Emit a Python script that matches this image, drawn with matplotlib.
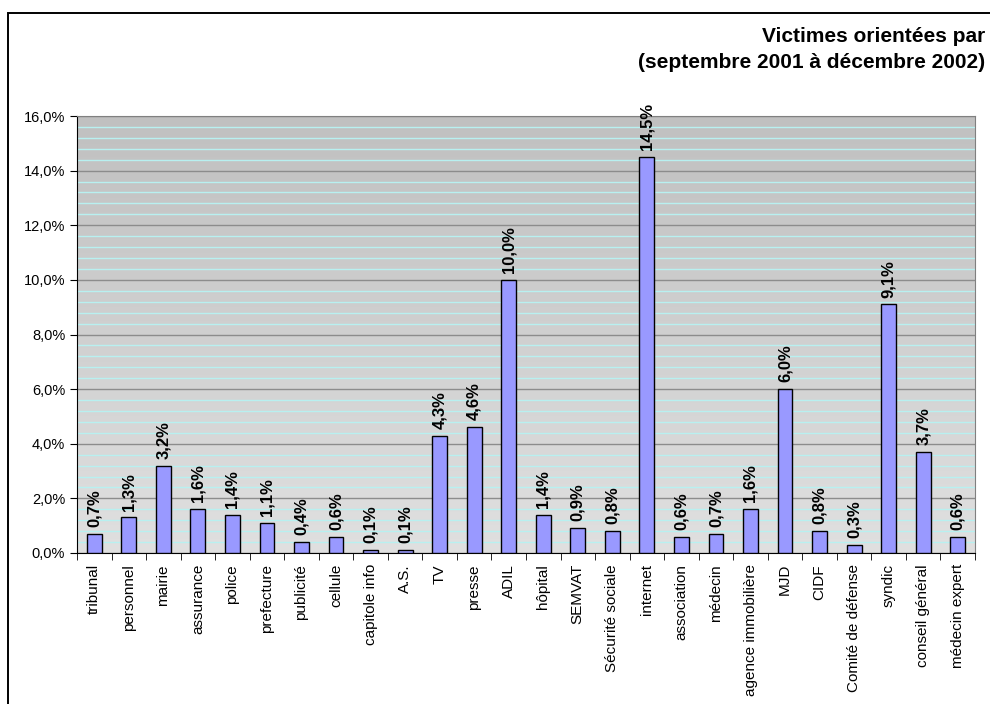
import numpy as np
import matplotlib

matplotlib.use("Agg")

import matplotlib.pyplot as plt  # noqa: E402
from matplotlib.patches import Rectangle  # noqa: E402
from matplotlib.ticker import FuncFormatter, MultipleLocator  # noqa: E402

categories = [
    "tribunal", "personnel", "mairie", "assurance", "police", "prefecture",
    "publicité", "cellule", "capitole info", "A.S.", "TV", "presse", "ADIL",
    "hôpital", "SEMVAT", "Sécurité sociale", "internet", "association",
    "médecin", "agence immobilière", "MJD", "CIDF", "Comité de défense",
    "syndic", "conseil général", "médecin expert",
]
values = [
    0.7, 1.3, 3.2, 1.6, 1.4, 1.1, 0.4, 0.6, 0.1, 0.1, 4.3, 4.6, 10.0,
    1.4, 0.9, 0.8, 14.5, 0.6, 0.7, 1.6, 6.0, 0.8, 0.3, 9.1, 3.7, 0.6,
]
title_lines = ["Victimes orientées par", "(septembre 2001 à décembre 2002)"]

plt.rcParams["font.family"] = ["Liberation Sans", "DejaVu Sans"]

W, H = 990, 704
fig = plt.figure(figsize=(W / 100, H / 100), dpi=100)
fig.patch.set_facecolor("white")

# outer chart frame (left + top visible, rest runs off the image)
fig.add_artist(Rectangle((8 / W, -0.1), 1.2, (H - 13) / H + 0.1,
                         transform=fig.transFigure, fill=False,
                         edgecolor="black", linewidth=1.4))

ax = fig.add_axes([77 / W, (H - 553) / H, (975 - 77) / W, (553 - 116) / H])

x = np.arange(len(categories))
ax.set_xlim(-0.5, len(categories) - 0.5)
ax.set_ylim(0, 16)

# silver gradient background
grad = np.linspace(0, 1, 256).reshape(-1, 1)
ax.imshow(grad, extent=(-0.5, len(categories) - 0.5, 0, 16), aspect="auto",
          cmap=matplotlib.colors.LinearSegmentedColormap.from_list(
              "bg", ["#E0E0E0", "#C0C0C0"]),
          origin="lower", zorder=0)

ax.yaxis.set_major_locator(MultipleLocator(2))
ax.yaxis.set_minor_locator(MultipleLocator(0.4))
ax.grid(which="minor", axis="y", color="#B8F0F0", linewidth=1.0, zorder=1)
ax.grid(which="major", axis="y", color="#8C8C8C", linewidth=1.0, zorder=1)
ax.set_axisbelow(True)

ax.bar(x, values, width=0.43, color="#9999FF", edgecolor="black",
       linewidth=1.0, zorder=3)

for xi, v in zip(x, values):
    ax.annotate(f"{v:.1f}%".replace(".", ","), (xi, v), xytext=(0, 5),
                textcoords="offset points", rotation=90, ha="center",
                va="bottom", fontsize=12, fontweight="bold", zorder=4)

ax.set_xticks(x)
ax.set_xticklabels(categories, rotation=90, fontsize=11)
ax.set_xticks(np.arange(len(categories) + 1) - 0.5, minor=True)
ax.tick_params(axis="x", which="major", length=0, pad=8)
ax.tick_params(axis="x", which="minor", length=5, direction="out")
ax.tick_params(axis="y", which="major", length=5, direction="out",
               labelsize=10.5)
ax.tick_params(axis="y", which="minor", length=0)
ax.yaxis.set_major_formatter(
    FuncFormatter(lambda v, _: f"{v:.1f}%".replace(".", ",")))

for side in ("top", "right"):
    ax.spines[side].set_color("#808080")
for side in ("left", "bottom"):
    ax.spines[side].set_color("black")

fig.text(985 / W, 1 - 36 / H, title_lines[0], ha="right", va="center",
         fontsize=15, fontweight="bold")
fig.text(985 / W, 1 - 62 / H, title_lines[1], ha="right", va="center",
         fontsize=15, fontweight="bold")

fig.savefig("out.png", dpi=100)
plt.close(fig)
